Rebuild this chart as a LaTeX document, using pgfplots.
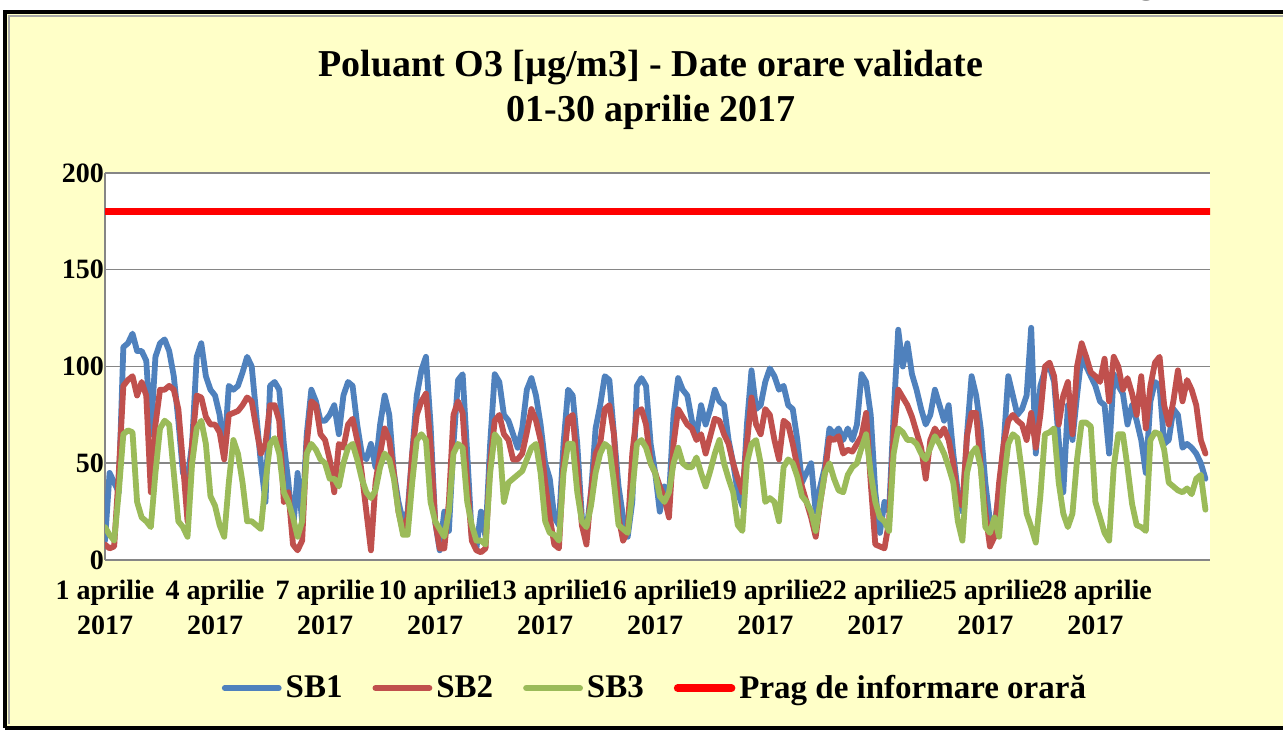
\documentclass[border=0pt]{standalone}
\usepackage{pgfplots}
\pgfplotsset{compat=1.18}
\usepackage{pgfplotstable}
\usepackage{fontspec}
\setmainfont{Liberation Serif}
\definecolor{bgyellow}{RGB}{255,255,200}
\definecolor{sbblue}{RGB}{79,129,189}
\definecolor{sbred}{RGB}{192,80,77}
\definecolor{sbgreen}{RGB}{155,187,89}
\definecolor{gridgray}{RGB}{134,134,134}
\pgfplotstableread{
x b r g
0 10 8 17
3 45 6 13
6 40 7 10
9 35 45 35
12 110 90 65
15 112 93 67
18 117 95 66
21 108 85 30
24 108 92 22
27 103 85 20
30 65 35 17
33 105 70 45
36 112 88 68
39 114 88 72
42 108 90 70
45 95 88 45
48 72 78 20
51 45 50 17
54 42 20 12
57 60 60 50
60 105 85 68
63 112 84 72
66 95 74 60
69 88 70 33
72 85 70 28
75 75 66 18
78 55 52 12
81 90 75 40
84 88 76 62
87 90 77 55
90 97 80 40
93 105 84 20
96 100 82 20
99 75 68 18
102 50 55 16
105 30 60 40
108 90 80 60
111 92 80 63
114 88 72 55
117 60 30 35
120 40 35 30
123 15 8 22
126 45 5 12
129 20 10 20
132 65 60 55
135 88 82 60
138 82 80 57
141 72 65 52
144 72 62 50
147 75 52 42
150 80 35 42
153 65 60 38
156 85 58 50
159 92 70 58
162 90 73 60
165 70 62 52
168 55 45 42
171 52 25 35
174 60 5 32
177 48 40 36
180 70 55 48
183 85 68 55
186 75 62 52
189 45 45 42
192 30 25 25
195 20 15 13
198 25 22 13
201 55 55 40
204 85 75 62
207 98 82 65
210 105 86 62
213 70 60 30
216 20 20 20
219 5 6 16
222 25 6 12
225 15 30 25
228 60 75 55
231 93 82 60
234 96 76 58
237 55 40 30
240 12 10 18
243 6 5 10
246 25 4 10
249 12 6 8
252 60 50 45
255 96 72 65
258 92 75 62
261 75 65 30
264 72 62 40
267 65 52 42
270 58 52 44
273 68 55 46
276 88 66 52
279 94 78 58
282 85 72 60
285 70 62 45
288 50 40 20
291 42 22 14
294 22 8 13
297 18 6 10
300 60 50 45
303 88 73 60
306 85 75 60
309 60 48 35
312 22 18 20
315 15 8 17
318 35 35 28
321 68 55 45
324 80 60 55
327 95 78 60
330 93 80 58
333 65 65 40
336 38 22 18
339 22 10 16
342 12 15 14
345 30 55 35
348 90 76 60
351 94 78 62
354 90 70 58
357 60 50 50
360 45 45 45
363 25 38 33
366 38 32 30
369 32 22 35
372 75 60 50
375 94 78 58
378 88 74 50
381 85 70 48
384 72 68 48
387 65 62 53
390 80 65 45
393 70 55 38
396 78 64 46
399 88 73 55
402 82 72 62
405 80 65 50
408 62 60 42
411 50 50 35
414 35 42 18
417 28 35 15
420 70 60 50
423 98 84 60
426 78 70 62
429 80 65 50
432 92 78 30
435 99 75 32
438 95 62 30
441 88 52 20
444 90 72 48
447 80 70 52
450 78 60 50
453 62 48 43
456 40 38 33
459 45 30 30
462 50 22 25
465 25 12 15
468 38 30 30
471 48 45 45
474 68 63 50
477 65 62 42
480 68 64 36
483 62 55 35
486 68 57 44
489 62 56 48
492 70 60 50
495 96 64 58
498 92 76 65
501 75 40 45
504 35 8 30
507 14 7 22
510 30 6 20
513 25 20 15
516 75 65 55
519 119 88 68
522 100 84 66
525 112 80 62
528 96 74 62
531 88 66 60
534 78 58 55
537 70 42 52
540 75 62 58
543 88 68 64
546 80 64 60
549 72 68 55
552 80 62 48
555 55 50 40
558 35 31 20
561 25 28 10
564 65 64 45
567 95 76 55
570 85 76 58
573 68 48 48
576 40 25 17
579 20 7 14
582 18 12 22
585 35 40 12
588 60 60 40
591 95 72 60
594 85 75 65
597 75 72 63
600 78 70 45
603 85 62 24
606 120 76 17
609 55 58 9
612 90 75 33
615 98 100 65
618 100 102 66
621 92 95 68
624 62 70 40
627 35 85 24
630 80 92 17
633 62 65 24
636 85 100 52
639 106 112 71
642 100 105 71
645 95 97 69
648 90 95 30
651 82 92 22
654 80 104 14
657 55 82 10
660 96 105 48
663 90 100 65
666 86 88 65
669 70 94 48
672 80 86 29
675 72 75 18
678 62 95 17
681 45 68 15
684 82 90 62
687 92 102 66
690 90 105 65
693 60 80 57
696 62 70 40
699 78 82 38
702 75 98 36
705 58 82 35
708 60 93 37
711 58 88 34
714 55 80 42
717 50 62 44
720 42 55 26
}\ozone
\pgfplotstableread{
x p
0 180
723 180
}\prag
\begin{document}
\begin{tikzpicture}
\useasboundingbox (-52.5pt,-85.5pt) rectangle (589pt,280pt);
\fill[bgyellow] (-50pt,-84pt) rectangle (598pt,274pt);
\draw[black, line width=1.75pt] (-50pt,-84pt) -- (-50pt,274pt) -- (598pt,274pt);
\draw[black, line width=1.75pt] (-50pt,-84pt) -- (598pt,-84pt);
\draw[gray!70, line width=0.75pt] (-48pt,-82pt) -- (-48pt,272pt) -- (598pt,272pt);
\node[font=\fontsize{19}{22}\selectfont\bfseries, anchor=base] at (521pt,283.5pt) {g};
\node[font=\fontsize{19}{22}\selectfont\bfseries, anchor=base] at (273pt,241.5pt) {Poluant O3 [µg/m3] - Date orare validate};
\node[font=\fontsize{19}{22}\selectfont\bfseries, anchor=base] at (273pt,219pt) {01-30 aprilie 2017};
\begin{axis}[
  at={(0pt,0pt)}, anchor=south west,
  scale only axis, width=552.5pt, height=193.5pt,
  xmin=0, xmax=723, ymin=0, ymax=200,
  axis background/.style={fill=white},
  axis x line*=bottom, axis y line*=left,
  axis line style={gridgray, line width=0.75pt},
  ytick={0,50,100,150,200},
  ymajorgrids, major grid style={gridgray, line width=0.75pt},
  major tick length=0pt,
  /pgf/number format/assume math mode=true,
  yticklabel style={font=\fontsize{14}{16}\selectfont\bfseries, xshift=3pt},
  xtick={0,72,144,216,288,360,432,504,576,648},
  xticklabels={{1 aprilie\\2017},{4 aprilie\\2017},{7 aprilie\\2017},{10 aprilie\\2017},{13 aprilie\\2017},{16 aprilie\\2017},{19 aprilie\\2017},{22 aprilie\\2017},{25 aprilie\\2017},{28 aprilie\\2017}},
  xticklabel style={align=center, font=\fontsize{14}{17.5}\selectfont\bfseries, yshift=-6.5pt},
  legend columns=4,
  legend style={at={(0.4986,-0.331)}, anchor=center, draw=none, fill=none,
    font=\fontsize{16.5}{20}\selectfont\bfseries,
    /tikz/every even column/.append style={column sep=13pt}},
  legend image code/.code={\draw[#1] (0pt,0pt) -- (27pt,0pt);},
  every axis plot/.append style={line join=round, line cap=round},
]
\addplot[sbblue, line width=2.9pt] table[x=x, y=b] {\ozone};
\addlegendentry{SB1}
\addplot[sbred, line width=2.9pt] table[x=x, y=r] {\ozone};
\addlegendentry{SB2}
\addplot[sbgreen, line width=2.9pt] table[x=x, y=g] {\ozone};
\addlegendentry{SB3}
\addplot[red, line width=3.75pt] table[x=x, y=p] {\prag};
\addlegendentry{Prag de informare orară}
\end{axis}
\end{tikzpicture}
\end{document}
